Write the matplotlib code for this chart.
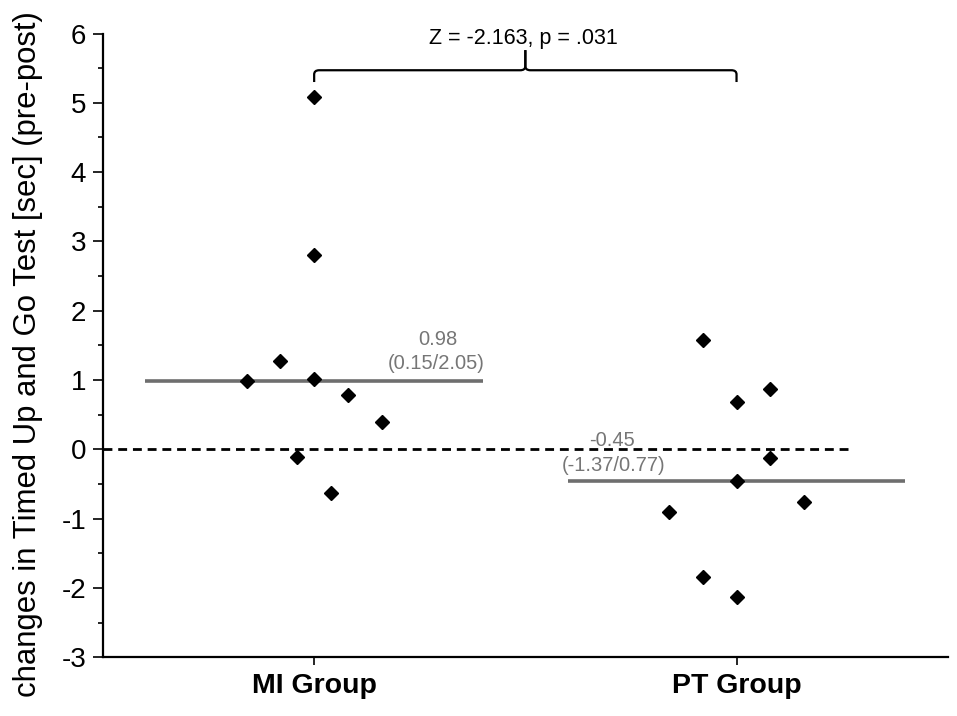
import numpy as np
import matplotlib
matplotlib.use("Agg")
import matplotlib.pyplot as plt
from matplotlib.path import Path
from matplotlib.patches import PathPatch

plt.rcParams['font.family'] = ['Liberation Sans', 'DejaVu Sans']

# ---- data ----
groups = ["MI Group", "PT Group"]
group_pos = [1, 2]
mi_offsets = [-0.16, -0.08, -0.04, 0.0, 0.0, 0.0, 0.04, 0.08, 0.16]
mi_values = [0.98, 1.28, -0.11, 5.08, 2.80, 1.02, -0.63, 0.78, 0.40]
pt_offsets = [-0.16, -0.08, -0.08, 0.0, 0.0, 0.0, 0.08, 0.08, 0.16]
pt_values = [-0.90, 1.58, -1.84, 0.68, -0.46, -2.13, 0.87, -0.13, -0.76]
medians = [0.98, -0.45]
median_labels = ["0.98", "-0.45"]
iqr_labels = ["(0.15/2.05)", "(-1.37/0.77)"]
stat_text = "Z = -2.163, p = .031"
ylabel = "changes in Timed Up and Go Test [sec] (pre-post)"
yticks = list(range(-3, 7))

fig = plt.figure(figsize=(9.57, 7.16), dpi=100)
ax = fig.add_axes([0.1076, 0.082, 0.8827, 0.8712])

# zero reference line
ax.plot([0.5, 2.27], [0, 0], color='black', lw=2, linestyle=(0, (3.2, 2.1)), zorder=1)

# median lines
half = 0.4
for g, m in zip(group_pos, medians):
    ax.plot([g - half, g + half], [m, m], color='#6e6e6e', lw=2.6, zorder=2, solid_capstyle='butt')

# points
ax.plot(np.array(group_pos[0]) + np.array(mi_offsets), mi_values, linestyle='none',
        marker='D', markersize=7, color='black', zorder=3)
ax.plot(np.array(group_pos[1]) + np.array(pt_offsets), pt_values, linestyle='none',
        marker='D', markersize=7, color='black', zorder=3)

# median annotations
gray = '#767676'
ax.text(1.293, 1.58, median_labels[0], ha='center', va='center', fontsize=14.5, color=gray)
ax.text(1.289, 1.245, iqr_labels[0], ha='center', va='center', fontsize=14.5, color=gray)
ax.text(1.706, 0.134, median_labels[1], ha='center', va='center', fontsize=14.5, color=gray)
ax.text(1.709, -0.24, iqr_labels[1], ha='center', va='center', fontsize=14.5, color=gray)

# significance bracket
y_end, y_bar, y_top = 5.30, 5.47, 5.76
rx, ry = 0.012, 0.06
x1, x2 = group_pos
xm = (x1 + x2) / 2
def half_brace(xa, sgn):
    verts = [(xa, y_end), (xa, y_bar - ry), (xa, y_bar), (xa + sgn * rx, y_bar),
             (xm - sgn * rx, y_bar), (xm, y_bar), (xm, y_bar + ry), (xm, y_top)]
    codes = [Path.MOVETO, Path.LINETO, Path.CURVE3, Path.CURVE3,
             Path.LINETO, Path.CURVE3, Path.CURVE3, Path.LINETO]
    return PathPatch(Path(verts, codes), fill=False, lw=1.6, edgecolor='black', clip_on=False)
ax.add_patch(half_brace(x1, 1))
ax.add_patch(half_brace(x2, -1))
ax.text(1.495, 5.85, stat_text, ha='center', va='baseline', fontsize=15.5)

# axes
ax.set_xlim(0.5, 2.5)
ax.set_ylim(-3, 6)
ax.set_xticks(group_pos)
ax.set_xticklabels(groups, fontsize=20.5, fontweight='bold')
ax.set_yticks(yticks)
ax.set_yticklabels([str(t) for t in yticks], fontsize=20)
ax.set_yticks(np.arange(-2.5, 6, 1.0), minor=True)
ax.tick_params(axis='y', which='major', length=7, width=1.2, direction='out', pad=5)
ax.tick_params(axis='y', which='minor', length=3.6, width=1.2, direction='out')
ax.tick_params(axis='x', which='major', length=6, width=1.2, direction='out', pad=5)
for s in ['top', 'right']:
    ax.spines[s].set_visible(False)
for s in ['left', 'bottom']:
    ax.spines[s].set_linewidth(1.6)

fig.text(0.029, 0.506, ylabel, rotation=90, ha='center', va='center', fontsize=22.4)

fig.savefig("out.png", dpi=100)
